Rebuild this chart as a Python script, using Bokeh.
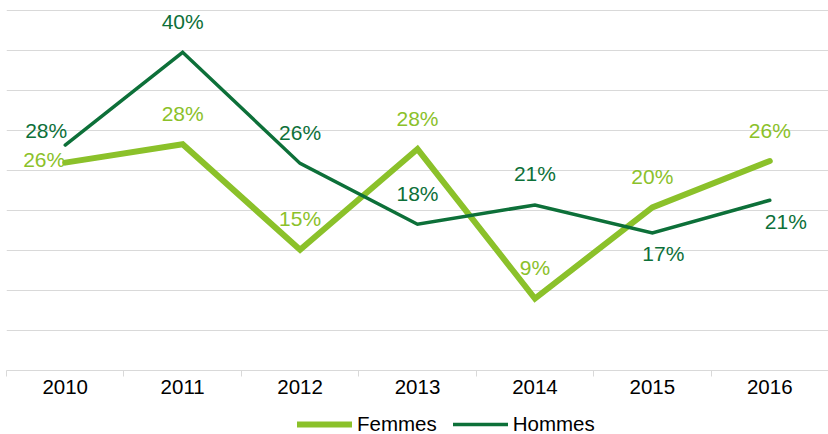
from bokeh.plotting import figure
from bokeh.layouts import column
from bokeh.models import (ColumnDataSource, FixedTicker, SingleIntervalTicker, Range1d,
                          Legend, LegendItem)
from bokeh.core.properties import value
from bokeh.embed import file_html
from bokeh.resources import INLINE

# ---- data ----
years = ["2010", "2011", "2012", "2013", "2014", "2015", "2016"]
femmes = [26.0, 28.3, 15.1, 27.7, 9.0, 20.4, 26.2]
hommes = [28.2, 39.8, 25.9, 18.3, 20.7, 17.2, 21.3]
series_names = ["Femmes", "Hommes"]
# label placement codes
femmes_pos = ["left", "above", "above", "above", "above", "above", "above"]
hommes_pos = ["upleft", "above", "above", "above", "above", "below", "belowright"]

# ---- styles ----
C_F = "#8BC12A"
C_H = "#0D7039"
GRID = "#D9D9D9"
FONT = "Liberation Sans"
STYLE_F = dict(line_width=6, line_color=C_F, line_cap="round", line_join="miter")
STYLE_H = dict(line_width=3.5, line_color=C_H, line_cap="round", line_join="miter")
OFFSETS = {  # (x_offset, y_offset, align)
    "above": (0, -31, "center"),
    "left": (0, -3, "right"),
    "upleft": (2, -15, "right"),
    "below": (11, 21, "center"),
    "belowright": (16, 21, "center"),
}

xs = list(range(len(years)))

p = figure(width=828, height=404, output_backend="svg", toolbar_location=None,
           x_range=Range1d(-0.5, len(years) - 0.5), y_range=Range1d(0, 45.15),
           y_axis_location=None,
           min_border_left=6, min_border_right=0, min_border_top=9, min_border_bottom=34)
p.outline_line_color = None
p.background_fill_color = "white"
p.border_fill_color = "white"

p.xgrid.visible = False
p.ygrid.ticker = SingleIntervalTicker(interval=5)
p.ygrid.grid_line_color = GRID
p.ygrid.grid_line_width = 1

ax = p.xaxis[0]
ax.ticker = FixedTicker(ticks=xs, minor_ticks=[i - 0.5 for i in range(len(years) + 1)])
ax.major_label_overrides = {i: y for i, y in enumerate(years)}
ax.major_tick_out = 0
ax.major_tick_in = 0
ax.minor_tick_out = 6
ax.minor_tick_in = 0
ax.minor_tick_line_color = GRID
ax.axis_line_color = GRID
ax.major_label_standoff = 3
ax.major_label_text_font = FONT
ax.major_label_text_font_size = "20.5px"
ax.major_label_text_color = "#000000"

p.line(xs, femmes, **STYLE_F)
p.line(xs, hommes, **STYLE_H)


def label_source(vals, pos):
    return ColumnDataSource(dict(
        x=xs, y=vals,
        t=[f"{round(v)}%" for v in vals],
        dx=[OFFSETS[c][0] for c in pos],
        dy=[OFFSETS[c][1] for c in pos],
        al=[OFFSETS[c][2] for c in pos],
    ))


for vals, pos, col in ((femmes, femmes_pos, C_F), (hommes, hommes_pos, C_H)):
    p.text(x="x", y="y", text="t", x_offset="dx", y_offset="dy", text_align="al",
           text_baseline="middle", text_font=value(FONT), text_font_size=value("21px"),
           text_color=col, source=label_source(vals, pos))

# ---- legend strip (its own lines sit outside its visible range) ----
lg = figure(width=828, height=30, output_backend="svg", toolbar_location=None,
            x_range=Range1d(100, 101), y_range=Range1d(100, 101),
            x_axis_location=None, y_axis_location=None,
            min_border_left=0, min_border_right=0, min_border_top=0, min_border_bottom=0)
lg.outline_line_color = None
lg.xgrid.visible = False
lg.ygrid.visible = False
lf = lg.line(xs, femmes, **STYLE_F)
lh = lg.line(xs, hommes, **STYLE_H)
legend = Legend(items=[LegendItem(label=series_names[0], renderers=[lf]),
                       LegendItem(label=series_names[1], renderers=[lh])],
                orientation="horizontal", location=(291, -2),
                glyph_width=55, glyph_height=20, label_standoff=5, spacing=16,
                label_text_font=FONT, label_text_font_size="20.5px",
                label_text_color="#000000",
                padding=0, margin=0, border_line_color=None, background_fill_alpha=0)
lg.add_layout(legend)

open("out.html", "w").write(file_html(column(p, lg, spacing=0), INLINE))
